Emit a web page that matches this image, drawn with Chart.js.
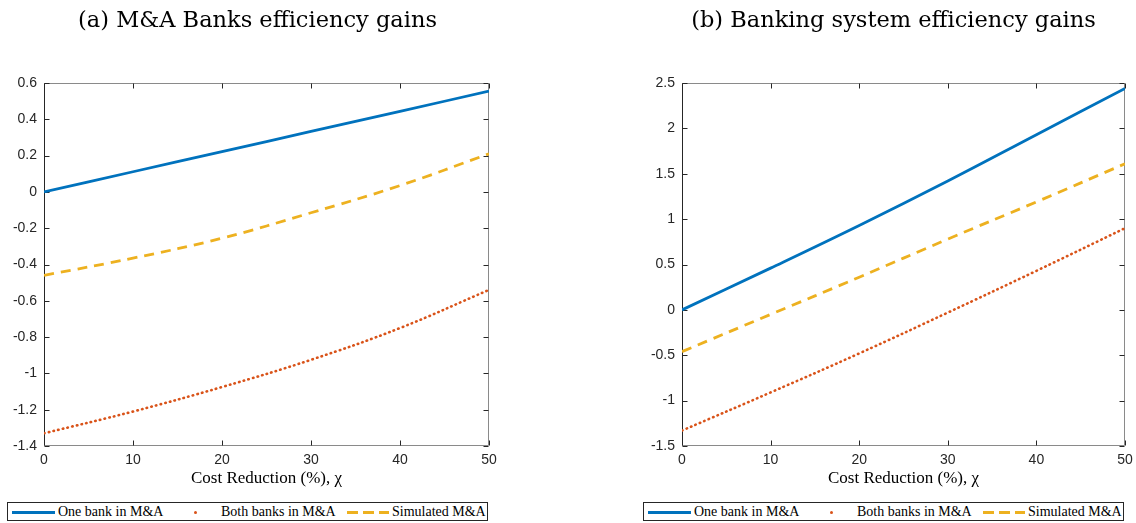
<!DOCTYPE html>
<html>
<head>
<meta charset="utf-8">
<script src="https://cdn.jsdelivr.net/npm/chart.js@4.4.1/dist/chart.umd.min.js"></script>
<style>
  body { margin: 0; background: #fff; width: 1136px; height: 523px; overflow: hidden; position: relative; }
  .panel { position: absolute; top: 0; height: 495px; }
  .legend { position: absolute; top: 502px; width: 481px; height: 19px; border: 1px solid #262626; box-sizing: border-box;
            font-family: "Liberation Serif", serif; font-size: 14px; color: #000; }
  .legend span { position: absolute; top: 0; line-height: 17px; white-space: nowrap; }
  .legend .ln { position: absolute; top: 8px; height: 3px; }
  .legend .dot { position: absolute; top: 7.5px; width: 3px; height: 3px; border-radius: 50%; background: #D95319; }
</style>
</head>
<body>
<div class="panel" style="left:0;width:530px"><canvas id="chart_a"></canvas></div>
<div class="panel" style="left:640px;width:507px"><canvas id="chart_b"></canvas></div>
<div class="legend" id="legend_a" style="left:7px"></div>
<div class="legend" id="legend_b" style="left:643px"></div>
<script>
// x values (cost reduction, %)
var costReduction = [0, 10, 20, 30, 40, 50];

// panel (a) M&A banks
var oneBankA   = [0, 0.111, 0.222, 0.333, 0.444, 0.555];
var bothBanksA = [-1.33, -1.21, -1.075, -0.925, -0.75, -0.54];
var simulatedA = [-0.46, -0.365, -0.255, -0.115, 0.035, 0.21];

// panel (b) banking system
var oneBankB   = [0, 0.46, 0.93, 1.42, 1.93, 2.44];
var bothBanksB = [-1.33, -0.91, -0.48, -0.03, 0.43, 0.90];
var simulatedB = [-0.46, -0.05, 0.36, 0.78, 1.19, 1.61];

var xTicks  = [0, 10, 20, 30, 40, 50];
var yTicksA = [-1.4, -1.2, -1, -0.8, -0.6, -0.4, -0.2, 0, 0.2, 0.4, 0.6];
var yTicksB = [-1.5, -1, -0.5, 0, 0.5, 1, 1.5, 2, 2.5];

var seriesNames = ['One bank in M&A', 'Both banks in M&A', 'Simulated M&A'];
var panelTitles = ['(a) M&A Banks efficiency gains', '(b) Banking system efficiency gains'];
var xTitle = 'Cost Reduction (%), \u03c7';

var blue = '#0072BD', red = '#D95319', yellow = '#EDB120', axisCol = '#262626';

function pts(ys) {
    return costReduction.map(function (x, i) { return { x: x, y: ys[i] }; });
}

// box around the plot, with ticks pointing inside on all four sides
var framePlugin = {
    id: 'frame',
    beforeDatasetsDraw: function (chart) {
        var a = chart.chartArea, ctx = chart.ctx;
        var xs = chart.scales.x, ys = chart.scales.y;
        var L = Math.round(a.left) + 0.5, R = Math.round(a.right) - 0.5;
        var T = Math.round(a.top) + 0.5, B = Math.round(a.bottom) - 0.5;
        ctx.save();
        ctx.lineWidth = 1;
        ctx.strokeStyle = '#8a8a8a';
        ctx.beginPath();
        ctx.moveTo(L, T); ctx.lineTo(R, T); ctx.lineTo(R, B); ctx.lineTo(L, B);
        ctx.stroke();
        ctx.strokeStyle = axisCol;
        ctx.beginPath();
        ctx.moveTo(L, T); ctx.lineTo(L, B);
        xs.ticks.forEach(function (t) {
            var px = Math.round(xs.getPixelForValue(t.value)) + 0.5;
            ctx.moveTo(px, B); ctx.lineTo(px, B - 5);
            ctx.moveTo(px, T); ctx.lineTo(px, T + 5);
        });
        ys.ticks.forEach(function (t) {
            var py = Math.round(ys.getPixelForValue(t.value)) + 0.5;
            ctx.moveTo(L, py); ctx.lineTo(L + 5, py);
            ctx.moveTo(R, py); ctx.lineTo(R - 5, py);
        });
        ctx.stroke();
        ctx.restore();
    }
};

// yAxisWidth: left axis box; spareRight: empty right axis box, used to centre the title like the reference
function makeChart(id, title, series, yTicks, yAxisWidth, spareRight, padRight) {
    var tickFont = { family: '"Liberation Sans", Arial, sans-serif', size: 14 };
    return new Chart(document.getElementById(id), {
        type: 'line',
        data: {
            datasets: [{
                label: seriesNames[0],
                data: pts(series[0]),
                borderColor: blue,
                borderWidth: 2.8,
                pointRadius: 0,
                tension: 0.4,
                order: 3
            }, {
                label: seriesNames[1],
                data: pts(series[1]),
                borderColor: red,
                borderWidth: 2.6,
                borderDash: [0.5, 4.3],
                borderCapStyle: 'round',
                pointRadius: 0,
                tension: 0.4,
                order: 2
            }, {
                label: seriesNames[2],
                data: pts(series[2]),
                borderColor: yellow,
                borderWidth: 2.8,
                borderDash: [10, 7],
                pointRadius: 0,
                tension: 0.4,
                order: 1
            }]
        },
        options: {
            responsive: true,
            maintainAspectRatio: false,
            animation: false,
            layout: { padding: { left: 0, right: padRight, top: 0, bottom: 0 } },
            scales: {
                x: {
                    type: 'linear',
                    min: 0,
                    max: 50,
                    afterBuildTicks: function (s) { s.ticks = xTicks.map(function (v) { return { value: v }; }); },
                    afterFit: function (s) { s.height = 49; },
                    grid: { display: false, drawTicks: false },
                    border: { display: false },
                    ticks: { font: tickFont, color: axisCol, padding: 6, maxRotation: 0 },
                    title: {
                        display: true,
                        text: xTitle,
                        color: '#000',
                        font: { family: 'Liberation Serif', size: 17 },
                        padding: { top: 0, bottom: 6 }
                    }
                },
                y: {
                    min: yTicks[0],
                    max: yTicks[yTicks.length - 1],
                    afterBuildTicks: function (s) { s.ticks = yTicks.map(function (v) { return { value: v }; }); },
                    afterFit: function (s) { s.width = yAxisWidth; },
                    grid: { display: false, drawTicks: false },
                    border: { display: false },
                    ticks: {
                        font: tickFont,
                        color: axisCol,
                        padding: 7,
                        callback: function (v) { return String(+(+v).toFixed(1)); }
                    }
                },
                ySpare: {
                    position: 'right',
                    min: yTicks[0],
                    max: yTicks[yTicks.length - 1],
                    afterFit: function (s) { s.width = spareRight; },
                    grid: { display: false, drawTicks: false },
                    border: { display: false },
                    ticks: { display: false }
                }
            },
            plugins: {
                title: {
                    display: true,
                    text: title,
                    color: '#000',
                    font: { family: 'DejaVu Serif', size: 22.5, weight: 'normal' },
                    padding: { top: 7.5, bottom: 48.5 }
                },
                legend: { display: false },
                tooltip: { enabled: false }
            }
        },
        plugins: [framePlugin]
    });
}

makeChart('chart_a', panelTitles[0], [oneBankA, bothBanksA, simulatedA], yTicksA, 44, 26, 15);
makeChart('chart_b', panelTitles[1], [oneBankB, bothBanksB, simulatedB], yTicksB, 42, 22, 0);

// legend boxes under each panel
function fillLegend(id) {
    var el = document.getElementById(id);
    el.innerHTML =
        '<div class="ln" style="left:4px;width:43px;background:' + blue + '"></div>' +
        '<span style="left:50px">' + seriesNames[0].replace('&', '&amp;') + '</span>' +
        '<div class="dot" style="left:186px"></div>' +
        '<span style="left:213px">' + seriesNames[1].replace('&', '&amp;') + '</span>' +
        '<div class="ln" style="left:339px;width:42px;background:repeating-linear-gradient(to right,' + yellow +
            ' 0 11px, transparent 11px 16px)"></div>' +
        '<span style="left:384px">' + seriesNames[2].replace('&', '&amp;') + '</span>';
}
fillLegend('legend_a');
fillLegend('legend_b');
</script>
</body>
</html>
